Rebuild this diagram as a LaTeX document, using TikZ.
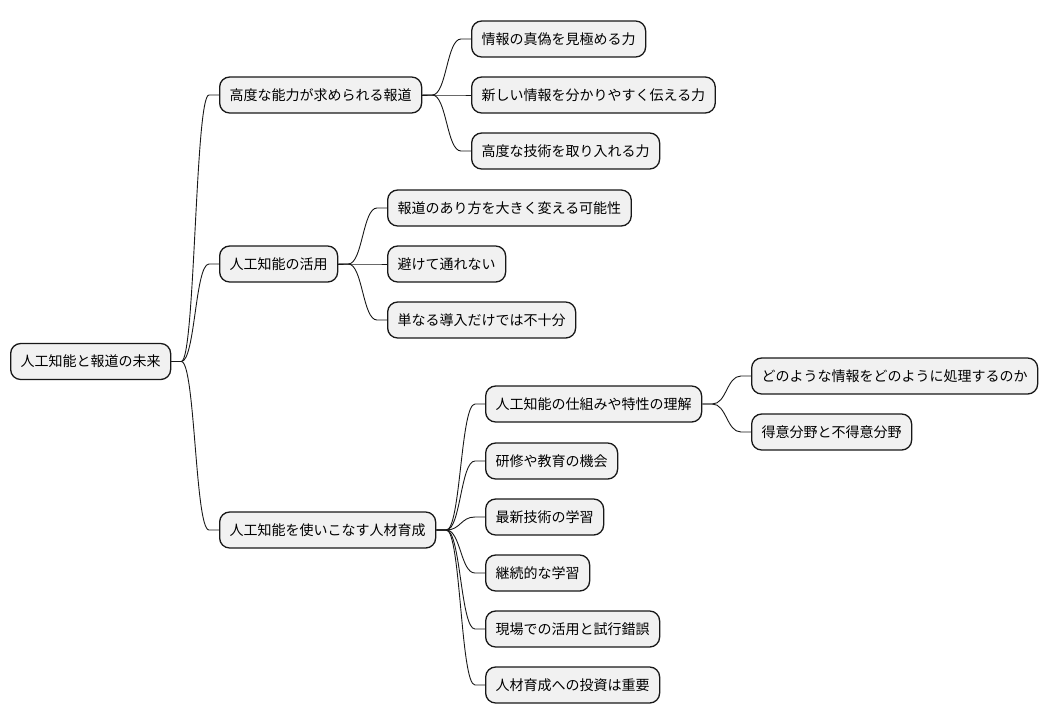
\documentclass[tikz,border=0pt]{standalone}
\usepackage{fontspec}
\setmainfont{Noto Sans CJK JP}
\usetikzlibrary{calc}
\definecolor{boxfill}{HTML}{F1F1F1}
\definecolor{boxline}{HTML}{181818}
\tikzset{
  mbox/.style={draw=boxline, fill=boxfill, line width=1.3pt, rounded corners=10pt,
    minimum height=36pt, inner xsep=10pt, inner ysep=0pt, anchor=west,
    font=\fontsize{14}{16}\selectfont, text=black},
  conn/.style={draw=boxline, line width=0.9pt}
}
\newcommand\conn[2]{\draw[conn] let \p1=(#1.east), \p2=(#2.west) in
  (\p1) -- ({\x1+10pt},\y1) .. controls ({(\x1+\x2)/2},\y1) and ({(\x1+\x2)/2},\y2) .. ({\x2-10pt},\y2) -- (\p2);}
\begin{document}
\begin{tikzpicture}[x=1pt,y=-1pt]
\useasboundingbox (0,0) rectangle (1048,724);
\node[mbox] (r) at (10,361.5) {人工知能と報道の未来};
\node[mbox] (a) at (219,95) {高度な能力が求められる報道};
\node[mbox] (b) at (219,264) {人工知能の活用};
\node[mbox] (c) at (219,530) {人工知能を使いこなす人材育成};
\node[mbox] (a1) at (471,39) {情報の真偽を見極める力};
\node[mbox] (a2) at (471,95) {新しい情報を分かりやすく伝える力};
\node[mbox] (a3) at (471,151) {高度な技術を取り入れる力};
\node[mbox] (b1) at (387,208) {報道のあり方を大きく変える可能性};
\node[mbox] (b2) at (387,264) {避けて通れない};
\node[mbox] (b3) at (387,320) {単なる導入だけでは不十分};
\node[mbox] (c1) at (485,404) {人工知能の仕組みや特性の理解};
\node[mbox] (c2) at (485,461) {研修や教育の機会};
\node[mbox] (c3) at (485,517) {最新技術の学習};
\node[mbox] (c4) at (485,573) {継続的な学習};
\node[mbox] (c5) at (485,629) {現場での活用と試行錯誤};
\node[mbox] (c6) at (485,685) {人材育成への投資は重要};
\node[mbox] (d1) at (751,376) {どのような情報をどのように処理するのか};
\node[mbox] (d2) at (751,432) {得意分野と不得意分野};
\conn{r}{a}\conn{r}{b}\conn{r}{c}
\conn{a}{a1}\conn{a}{a2}\conn{a}{a3}
\conn{b}{b1}\conn{b}{b2}\conn{b}{b3}
\conn{c}{c1}\conn{c}{c2}\conn{c}{c3}\conn{c}{c4}\conn{c}{c5}\conn{c}{c6}
\conn{c1}{d1}\conn{c1}{d2}
\end{tikzpicture}
\end{document}
